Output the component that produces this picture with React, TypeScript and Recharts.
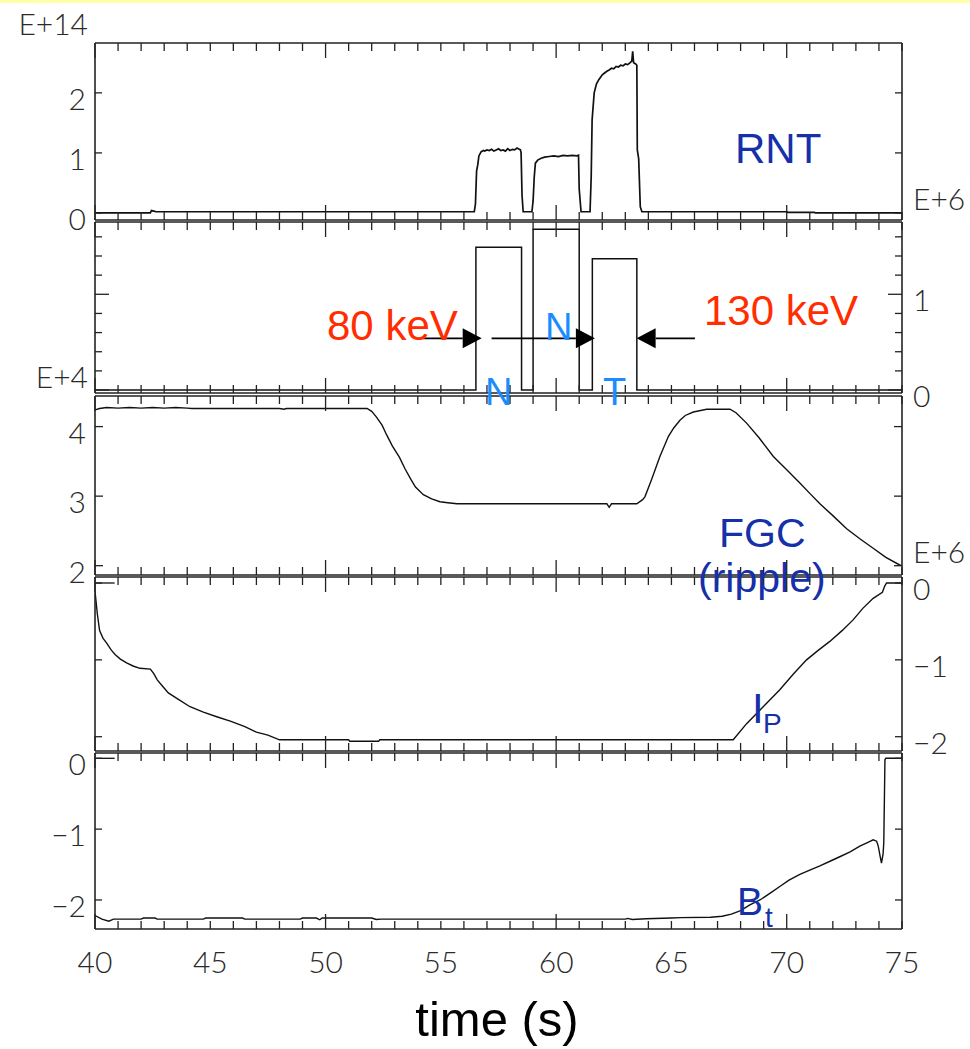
import React from 'react';
import { LineChart, Line, XAxis, YAxis, ReferenceLine } from 'recharts';

// ---------------- data ----------------
const timeTicks = [40, 41, 42, 43, 44, 45, 46, 47, 48, 49, 50, 51, 52, 53, 54, 55, 56, 57, 58, 59, 60, 61, 62, 63, 64, 65, 66, 67, 68, 69, 70, 71, 72, 73, 74, 75];

// RNT (E+14)
const rntTime = [40, 42.4, 42.45, 42.55, 42.65, 56.45, 56.5, 56.55, 56.6, 56.65, 56.75, 56.85, 56.9, 57.0, 57.1, 57.2, 57.3, 57.4, 57.5, 57.6, 57.7, 57.8, 57.9, 58.0, 58.1, 58.2, 58.3, 58.4, 58.45, 58.48, 58.52, 58.57, 58.95, 59.0, 59.05, 59.1, 59.2, 59.35, 59.5, 59.7, 59.9, 60.1, 60.3, 60.5, 60.7, 60.9, 60.97, 61.0, 61.08, 61.47, 61.52, 61.56, 61.65, 61.75, 61.85, 62.0, 62.1, 62.2, 62.3, 62.4, 62.5, 62.6, 62.7, 62.8, 62.9, 63.0, 63.1, 63.2, 63.28, 63.32, 63.36, 63.45, 63.5, 63.52, 63.58, 63.65, 63.72, 70.0, 70.05, 71.2, 71.25, 75];
const rntValue = [0, 0, 0.04, 0.03, 0.02, 0.02, 0.15, 0.7, 0.8, 0.95, 1.02, 1.04, 1.03, 1.05, 1.04, 1.06, 1.03, 1.05, 1.07, 1.04, 1.05, 1.03, 1.07, 1.04, 1.06, 1.05, 1.08, 1.06, 1.05, 1.0, 0.3, 0.02, 0.02, 0.2, 0.6, 0.83, 0.88, 0.91, 0.93, 0.94, 0.95, 0.94, 0.96, 0.95, 0.96, 0.95, 0.96, 0.4, 0.02, 0.02, 0.6, 1.55, 2.0, 2.15, 2.22, 2.3, 2.33, 2.36, 2.38, 2.41, 2.4, 2.44, 2.43, 2.46, 2.45, 2.48, 2.47, 2.5, 2.53, 2.69, 2.5, 2.48, 2.46, 1.05, 0.9, 0.1, 0.02, 0.02, 0.01, 0.01, 0, 0];
const rntTicks = [0, 1, 2];

// NBI power (E+6)
const nbiTime = [40, 56.52, 56.52, 58.5, 58.5, 59.0, 59.0, 61.0, 61.0, 61.57, 61.57, 63.5, 63.5, 75];
const nbiValue = [0, 0, 1.49, 1.49, 0, 0, 1.68, 1.68, 0, 0, 1.37, 1.37, 0, 0];
const nbiTicks = [0, 0.2, 0.4, 0.6, 0.8, 1, 1.2, 1.4, 1.6];
const arrowStart = [54.18, 57.2, 66.02];
const arrowEnd = [56.77, 61.68, 63.49];
const arrowLevel = 0.54;

// FGC ripple (E+4)
const fgcTime = [40, 40.2, 40.5, 41, 41.5, 42, 42.5, 43, 43.5, 44, 44.2, 48, 48.2, 48.3, 51.8, 52.0, 52.2, 52.45, 52.65, 52.9, 53.2, 53.45, 53.7, 53.9, 54.24, 54.6, 54.96, 55.3, 55.7, 62.2, 62.3, 62.4, 63.5, 63.75, 63.85, 64.14, 64.5, 64.87, 65.1, 65.37, 65.6, 65.95, 66.53, 67.54, 67.8, 68.26, 68.8, 69.42, 70.0, 70.57, 71.0, 71.44, 72.0, 72.6, 73.2, 73.75, 74.3, 74.9, 75];
const fgcValue = [4.24, 4.26, 4.275, 4.265, 4.275, 4.265, 4.275, 4.265, 4.275, 4.265, 4.26, 4.26, 4.25, 4.26, 4.26, 4.22, 4.14, 4.02, 3.88, 3.72, 3.56, 3.39, 3.24, 3.13, 3.02, 2.96, 2.92, 2.905, 2.89, 2.89, 2.84, 2.89, 2.89, 2.95, 2.99, 3.24, 3.57, 3.86, 3.98, 4.09, 4.16, 4.21, 4.25, 4.25, 4.2, 4.05, 3.84, 3.57, 3.38, 3.19, 3.04, 2.89, 2.72, 2.53, 2.38, 2.25, 2.12, 2.01, 2.0];
const fgcTicks = [2, 3, 4];

// Ip (E+6)
const ipTime = [40, 40.05, 40.1, 40.2, 40.35, 40.5, 40.7, 40.87, 41.1, 41.37, 41.65, 41.95, 42.4, 42.55, 42.7, 42.95, 43.18, 43.6, 44.12, 44.7, 45.28, 45.9, 46.5, 47.0, 47.5, 48.0, 51.0, 51.05, 52.3, 52.35, 67.68, 68.26, 68.98, 69.7, 70.3, 70.86, 71.35, 71.87, 72.4, 72.88, 73.3, 73.75, 74.15, 74.25, 74.33, 75];
const ipValue = [-0.11, -0.25, -0.4, -0.62, -0.72, -0.78, -0.87, -0.93, -0.99, -1.04, -1.08, -1.11, -1.12, -1.18, -1.26, -1.35, -1.43, -1.51, -1.61, -1.68, -1.74, -1.8, -1.87, -1.94, -1.98, -2.04, -2.04, -2.06, -2.06, -2.04, -2.04, -1.83, -1.61, -1.39, -1.18, -1.0, -0.88, -0.76, -0.62, -0.48, -0.33, -0.2, -0.12, -0.04, 0, 0];
const ipTicks = [-2, -1, 0];

// Bt
const btTime = [40, 40.3, 40.6, 40.8, 42.0, 42.1, 42.6, 42.7, 44.7, 44.8, 46.4, 46.5, 48.9, 49.0, 49.6, 49.75, 49.85, 52.0, 52.2, 52.4, 63.0, 63.1, 63.3, 63.9, 65.0, 65.4, 66.7, 67.2, 67.6, 68.0, 68.4, 68.84, 69.3, 69.7, 70.1, 70.57, 71.0, 71.44, 71.9, 72.3, 72.75, 73.17, 73.5, 73.75, 73.9, 73.97, 74.05, 74.11, 74.18, 74.21, 74.24, 74.26, 74.3, 75];
const btValue = [-2.22, -2.27, -2.3, -2.27, -2.27, -2.255, -2.255, -2.27, -2.27, -2.255, -2.255, -2.27, -2.27, -2.255, -2.255, -2.28, -2.255, -2.255, -2.275, -2.27, -2.27, -2.26, -2.275, -2.265, -2.255, -2.25, -2.245, -2.23, -2.2, -2.15, -2.07, -2.0, -1.9, -1.81, -1.72, -1.64, -1.58, -1.52, -1.45, -1.39, -1.32, -1.24, -1.19, -1.15, -1.17, -1.24, -1.38, -1.48, -1.35, -1.19, -0.5, -0.02, 0, 0];
const btTicks = [-2, -1, 0];

const zeroDash = [40, 40.85];

// ---------------- helpers ----------------
const toRows = (t: number[], v: number[]) => t.map((x, i) => ({ t: x, v: v[i] }));

const AX = '#222';
const TICK_FONT = "Lato, 'DejaVu Sans', sans-serif";
const TICK_SIZE = 30;
const ANN_FONT = "'Liberation Sans', Arial, sans-serif";
const fmt = (v: number) => (v < 0 ? '\u2212' + Math.abs(v) : String(v));

function xTick(side: 'top' | 'bottom', labels: boolean) {
  return (p: any) => {
    const v = p.payload.value;
    const major = v % 10 === 0;
    const len = major ? 15 : 8;
    const dir = side === 'bottom' ? -1 : 1;
    return (
      <g>
        <line x1={p.x} x2={p.x} y1={p.y} y2={p.y + dir * len} stroke={AX} strokeWidth={1.3} />
        {labels && v % 5 === 0 ? (
          <text x={p.x} y={p.y + 44} textAnchor="middle" fontFamily={TICK_FONT} fontWeight={300} fontSize={TICK_SIZE} fill="#2a2a2a">
            {v}
          </text>
        ) : null}
      </g>
    );
  };
}

function yTick(side: 'left' | 'right', labels: boolean, majorLen: number, minorLen: number) {
  return (p: any) => {
    const v = p.payload.value;
    const major = Math.abs(v - Math.round(v)) < 1e-9;
    const len = major ? majorLen : minorLen;
    const dir = side === 'left' ? 1 : -1;
    return (
      <g>
        <line x1={p.x} x2={p.x + dir * len} y1={p.y} y2={p.y} stroke={AX} strokeWidth={1.3} />
        {labels && major ? (
          <text
            x={side === 'left' ? p.x - 9 : p.x + 11}
            y={p.y + 17}
            textAnchor={side === 'left' ? 'end' : 'start'}
            fontFamily={TICK_FONT}
            fontWeight={300}
            fontSize={TICK_SIZE}
            fill="#2a2a2a"
          >
            {fmt(Math.round(v))}
          </text>
        ) : null}
      </g>
    );
  };
}

const ArrowShape = (props: any) => {
  const { x1, y1, x2, y2 } = props;
  const dir = x2 > x1 ? 1 : -1;
  const head = 19;
  const half = 10;
  return (
    <g>
      <line x1={x1} y1={y1} x2={x2 - dir * head} y2={y2} stroke="#000" strokeWidth={1.6} />
      <polygon points={`${x2},${y2} ${x2 - dir * head},${y2 - half} ${x2 - dir * head},${y2 + half}`} fill="#000" />
    </g>
  );
};

type PanelProps = {
  top: number;
  bottom: number;
  domain: [number, number];
  rows: { t: number; v: number }[];
  yTicks: number[];
  leftLabels?: boolean;
  rightLabels?: boolean;
  majorLen?: number;
  minorLen?: number;
  xLabels?: boolean;
  strokeWidth?: number;
  children?: React.ReactNode;
};

// XAxis boxes are 1px tall; the chart box extends 1px beyond the plot on each side.
const AXH = 1;

const Panel = ({ top, bottom, domain, rows, yTicks, leftLabels, rightLabels, majorLen = 7, minorLen = 7, xLabels, strokeWidth = 1.4, children }: PanelProps) => (
  <div style={{ position: 'absolute', left: 0, top: top - AXH }}>
    <LineChart width={970} height={bottom - top + 2 * AXH} data={rows} margin={{ top: 0, right: 8, bottom: 0, left: 35 }}>
      <XAxis xAxisId="b" dataKey="t" type="number" domain={[40, 75]} allowDataOverflow ticks={timeTicks} interval={0} orientation="bottom" height={AXH} tickSize={0} tickMargin={0} tickLine={false} axisLine={{ stroke: AX, strokeWidth: 1.6 }} tick={xTick('bottom', !!xLabels)} />
      <XAxis xAxisId="t" dataKey="t" type="number" domain={[40, 75]} allowDataOverflow ticks={timeTicks} interval={0} orientation="top" height={AXH} tickSize={0} tickMargin={0} tickLine={false} axisLine={{ stroke: AX, strokeWidth: 1.6 }} tick={xTick('top', false)} />
      <YAxis yAxisId="l" type="number" domain={domain} allowDataOverflow ticks={yTicks} interval={0} orientation="left" width={60} tickSize={0} tickMargin={0} tickLine={false} axisLine={{ stroke: AX, strokeWidth: 1.6 }} tick={yTick('left', !!leftLabels, majorLen, minorLen)} />
      <YAxis yAxisId="r" type="number" domain={domain} allowDataOverflow ticks={yTicks} interval={0} orientation="right" width={60} tickSize={0} tickMargin={0} tickLine={false} axisLine={{ stroke: AX, strokeWidth: 1.6 }} tick={yTick('right', !!rightLabels, majorLen, minorLen)} />
      <Line xAxisId="b" yAxisId="l" dataKey="v" type="linear" stroke="#111" strokeWidth={strokeWidth} dot={false} isAnimationActive={false} />
      {children}
    </LineChart>
  </div>
);

export default function App() {
  return (
    <div style={{ position: 'absolute', left: 0, top: 0, width: 970, height: 1049, background: '#fff', overflow: 'hidden' }}>
      <style>{`.recharts-surface{overflow:visible}`}</style>
      <div style={{ position: 'absolute', left: 0, top: 0, width: 970, height: 3, background: '#FFFFA8' }} />

      <Panel top={43} bottom={220} domain={[-0.117, 2.83]} rows={toRows(rntTime, rntValue)} yTicks={rntTicks} leftLabels strokeWidth={1.7} />
      <Panel top={222} bottom={393} domain={[-0.031, 1.755]} rows={toRows(nbiTime, nbiValue)} yTicks={nbiTicks} rightLabels majorLen={14} minorLen={7} strokeWidth={1.5}>
        {arrowStart.map((s, i) => (
          <ReferenceLine
            key={i}
            xAxisId="b"
            yAxisId="l"
            segment={[{ x: s, y: arrowLevel }, { x: arrowEnd[i], y: arrowLevel }]}
            shape={ArrowShape}
            ifOverflow="visible"
          />
        ))}
      </Panel>
      <Panel top={396} bottom={575} domain={[1.866, 4.44]} rows={toRows(fgcTime, fgcValue)} yTicks={fgcTicks} leftLabels majorLen={8} />
      <Panel top={577} bottom={751} domain={[-2.186, 0.078]} rows={toRows(ipTime, ipValue)} yTicks={ipTicks} rightLabels>
        <ReferenceLine xAxisId="b" yAxisId="l" segment={[{ x: zeroDash[0], y: 0 }, { x: zeroDash[1], y: 0 }]} stroke="#111" strokeWidth={1.3} />
      </Panel>
      <Panel top={753} bottom={929} domain={[-2.41, 0.075]} rows={toRows(btTime, btValue)} yTicks={btTicks} leftLabels xLabels>
        <ReferenceLine xAxisId="b" yAxisId="l" segment={[{ x: zeroDash[0], y: 0 }, { x: zeroDash[1], y: 0 }]} stroke="#111" strokeWidth={1.3} />
      </Panel>

      <svg width={970} height={1049} style={{ position: 'absolute', left: 0, top: 0, pointerEvents: 'none' }}>
        <g fontFamily={TICK_FONT} fontWeight={300} fontSize={TICK_SIZE} fill="#2a2a2a">
          <text x={88} y={35} textAnchor="end">E+14</text>
          <text x={913} y={210}>E+6</text>
          <text x={88} y={388} textAnchor="end">E+4</text>
          <text x={913} y={563}>E+6</text>
        </g>
        <g fontFamily={ANN_FONT}>
          <text x={735} y={163} fontSize={42} fill="#1530A8">RNT</text>
          <text x={327} y={340} fontSize={42} fill="#FF2D00">80 keV</text>
          <text x={704} y={325} fontSize={42} fill="#FF2D00">130 keV</text>
          <text x={545} y={340} fontSize={38} fill="#1A8CFF">N</text>
          <text x={485} y={405} fontSize={38} fill="#1A8CFF">N</text>
          <text x={603} y={405} fontSize={38} fill="#1A8CFF">T</text>
          <text x={719} y={547} fontSize={41} fill="#1530A8">FGC</text>
          <text x={698} y={592} fontSize={41} fill="#1530A8">(ripple)</text>
          <text x={752} y={723} fontSize={42} fill="#1530A8">I</text>
          <text x={763} y={733} fontSize={28} fill="#1530A8">P</text>
          <text x={737} y={915} fontSize={39} fill="#1530A8">B</text>
          <text x={765} y={927} fontSize={28} fill="#1530A8">t</text>
          <text x={497} y={1036} fontSize={49} fill="#000" textAnchor="middle">time (s)</text>
        </g>
      </svg>
    </div>
  );
}
